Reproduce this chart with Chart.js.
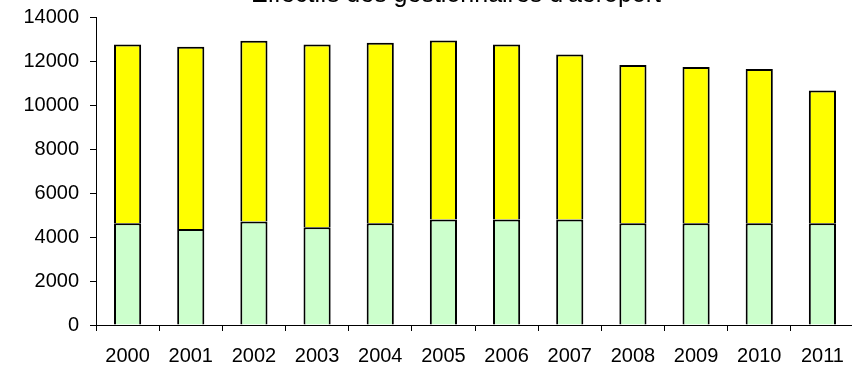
<!DOCTYPE html>
<html>
<head>
<meta charset="utf-8">
<script src="https://cdn.jsdelivr.net/npm/chart.js@4/dist/chart.umd.min.js"></script>
<style>
html, body { margin: 0; padding: 0; background: #fff; overflow: hidden; }
#wrap { position: relative; width: 854px; height: 369px; }
</style>
</head>
<body>
<div id="wrap"><canvas id="c"></canvas></div>
<script>
const chartTitle = "Effectifs des gestionnaires d'aéroport";
const years = ["2000","2001","2002","2003","2004","2005","2006","2007","2008","2009","2010","2011"];
const totals = [12750, 12650, 12920, 12750, 12830, 12930, 12750, 12300, 11820, 11730, 11640, 10660];
const lowerPart = [4620, 4360, 4710, 4440, 4620, 4790, 4790, 4790, 4620, 4620, 4620, 4620];
const upperPart = totals.map((t, i) => t - lowerPart[i]);
const yTicks = [0, 2000, 4000, 6000, 8000, 10000, 12000, 14000];

const FONT = "'Liberation Sans', Arial, sans-serif";

const titlePlugin = {
  id: 'cutTitle',
  afterDraw(chart) {
    const ctx = chart.ctx;
    ctx.save();
    ctx.fillStyle = '#000';
    ctx.font = "25px " + FONT;
    ctx.textAlign = 'center';
    ctx.textBaseline = 'alphabetic';
    ctx.fillText(chartTitle, 456, 2);
    ctx.restore();
  }
};

new Chart(document.getElementById('c'), {
  type: 'bar',
  data: {
    labels: years,
    datasets: [
      { data: lowerPart, backgroundColor: '#CCFFCC', borderColor: '#000', borderWidth: 2 },
      { data: upperPart, backgroundColor: '#FFFF00', borderColor: '#000', borderWidth: 2 }
    ]
  },
  options: {
    responsive: true,
    maintainAspectRatio: false,
    animation: false,
    layout: { padding: { top: 17, left: 0, right: 0, bottom: 0 } },
    datasets: { bar: { barPercentage: 0.43, categoryPercentage: 1.0 } },
    plugins: { legend: { display: false }, title: { display: false }, tooltip: { enabled: false } },
    scales: {
      x: {
        stacked: true,
        offset: true,
        border: { display: true, color: '#000', width: 1 },
        grid: { display: true, drawOnChartArea: false, drawTicks: true, tickLength: 6, color: '#000', offset: true },
        ticks: { color: '#000', font: { family: FONT, size: 20 }, padding: 13, maxRotation: 0, autoSkip: false },
        afterFit(s) { s.height = 44; s.paddingLeft = 0; s.paddingRight = 0; }
      },
      y: {
        stacked: true,
        min: 0,
        max: 14000,
        afterBuildTicks(s) { s.ticks = yTicks.map(v => ({ value: v })); },
        border: { display: true, color: '#000', width: 1 },
        grid: { display: true, drawOnChartArea: false, drawTicks: true, tickLength: 6, color: '#000' },
        ticks: { color: '#000', font: { family: FONT, size: 20 }, padding: 11, callback: (v) => String(v) },
        afterFit(s) { s.width = 96; s.paddingTop = 0; s.paddingBottom = 0; }
      }
    }
  },
  plugins: [titlePlugin]
});
</script>
</body>
</html>
